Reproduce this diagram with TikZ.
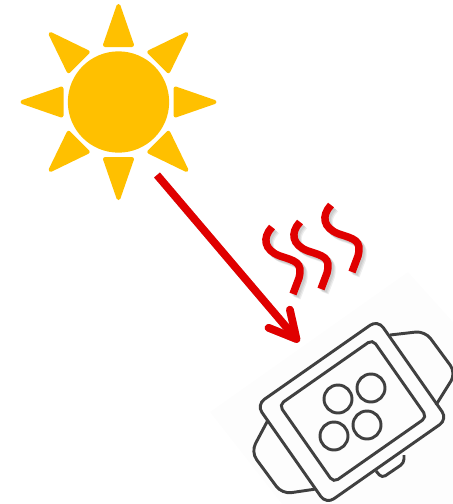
\documentclass[tikz,border=0pt]{standalone}
\usetikzlibrary{arrows.meta}
\usepackage{xcolor}
\definecolor{sunyellow}{HTML}{FFC000}
\definecolor{heatred}{HTML}{E00000}
\definecolor{watchgray}{HTML}{404040}
\definecolor{watchback}{HTML}{FDFDFD}

\begin{document}
\begin{tikzpicture}[
    x=0.75pt, y=-0.75pt,
    sunray/.style={fill=sunyellow, draw=sunyellow, line width=3pt, line join=round},
    watchline/.style={draw=watchgray, line width=2.2pt},
    watchbox/.style={watchline, rounded corners=7pt, rotate=35, inner sep=0pt},
    watchkey/.style={watchline, circle, minimum size=21pt, inner sep=0pt},
    heat/.style={heatred, line width=5.6pt},
    heatshadow/.style={black, opacity=0.07},
    arr/.style={-{Straight Barb[length=20pt, width=21pt, round]}, line width=5.8pt},
]
\useasboundingbox (0,0) rectangle (453,504);

% sun
\node[circle, fill=sunyellow, minimum size=76pt, inner sep=0pt] (sun) at (118.5,102) {};
\foreach \a in {0,45,...,315} {
    \path[sunray, shift={(sun.center)}, rotate=\a] (0,-96) -- (13.5,-57) -- (-13.5,-57) -- cycle;
}

% watch
\fill[watchback] (210,412) -- (408,272) -- (453,322) -- (453,504) -- (282,504) -- cycle;
\node[watchbox, minimum width=111pt, minimum height=91pt] (body) at (352,412) {};
\node[watchbox, minimum width=85.5pt, minimum height=71pt, rounded corners=4pt] (face) at (353,411) {};
\node[watchkey] (keya) at (338,399) {};
\node[watchkey] (keyb) at (371,388) {};
\node[watchkey] (keyc) at (334,436) {};
\node[watchkey] (keyd) at (367,425) {};
\draw[watchline, rounded corners=7pt] (390,335) -- (425,331) -- (456,373) -- (436,405);
\draw[watchline, rounded corners=7pt] (268,420) -- (251,452) -- (282,494) -- (316,489);
\draw[watchline, rounded corners=3pt] (404,455) -- (404,463) -- (382,478) -- (376,471);

% heat
\coordinate (rayfrom) at (157,175);
\coordinate (rayto) at (299,342);
\foreach \s in {2,3,4} {
    \draw[arr, heatshadow, shift={(\s,\s)}] (rayfrom) -- (rayto);
    \foreach \dx/\dy in {0/0,28/-5,59/-22} {
        \draw[heat, heatshadow, shift={(\dx+\s,\dy+\s)}] (272,227) .. controls (262,238) and (264,250) .. (280,256) .. controls (295,261) and (303,262) .. (299,278) -- (293,294);
    }
}
\draw[arr, heatred] (rayfrom) -- (rayto);
\foreach \dx/\dy in {0/0,28/-5,59/-22} {
    \draw[heat, shift={(\dx,\dy)}] (272,227) .. controls (262,238) and (264,250) .. (280,256) .. controls (295,261) and (303,262) .. (299,278) -- (293,294);
}

\end{tikzpicture}
\end{document}
